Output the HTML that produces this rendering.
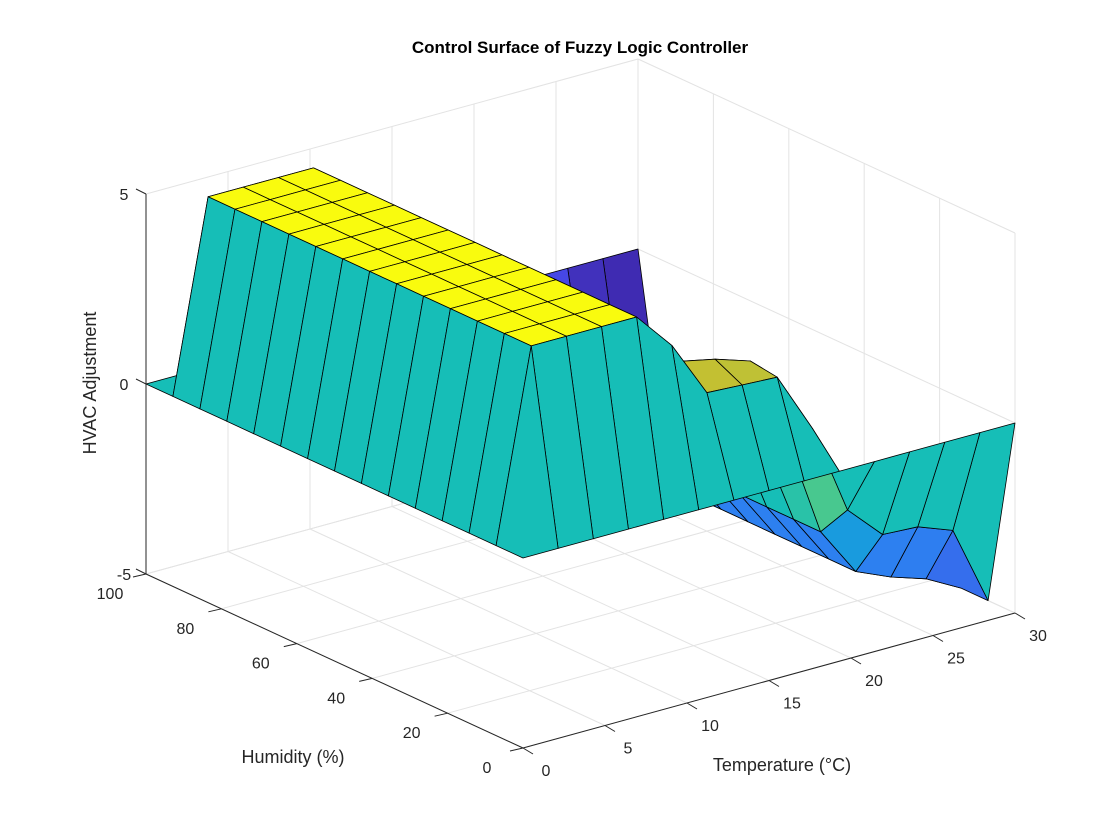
<!DOCTYPE html>
<html><head><meta charset="utf-8"><style>
html,body{margin:0;padding:0;background:#fff;}
svg{display:block;font-family:"Liberation Sans",Arial,sans-serif;}
</style></head><body>
<svg id="chart" width="1120" height="840" viewBox="0 0 1120 840" xmlns="http://www.w3.org/2000/svg">
<rect width="1120" height="840" fill="#fff"/>
<g id="grid"></g>
<g id="surf"></g>
<g id="axes"></g>
<text x="580" y="53" text-anchor="middle" font-size="17" font-weight="bold" fill="#000">Control Surface of Fuzzy Logic Controller</text>
<text x="0" y="0" transform="translate(96,383) rotate(-90)" text-anchor="middle" font-size="18" fill="#262626">HVAC Adjustment</text>
<text x="293" y="763" text-anchor="middle" font-size="18" fill="#262626">Humidity (%)</text>
<text x="782" y="771" text-anchor="middle" font-size="18" fill="#262626">Temperature (°C)</text>
</svg>
<script>
const tempGrid = [0,2.143,4.286,6.429,8.571,10.714,12.857,15,17.143,19.286,21.429,23.571,25.714,27.857,30];
const humGrid = [0,7.143,14.286,21.429,28.571,35.714,42.857,50,57.143,64.286,71.429,78.571,85.714,92.857,100];
const zRow0 = [0,0,0,0,0,0,0,0,0,0,0,0,0,0,0];
const zRow1 = [0,5,5,5,5,4,2.5,2.45,2.4,0.8,-1.6,-2.5,-2.55,-2.9,-5];
const zRow2 = [0,5,5,5,5,3.8,3.0,2.8,2.5,0.3,-2.5,-3.8,-4.2,-4.5,-5];
const zRowMid = [0,5,5,5,5,2.0,1.0,0.5,0.3,0,-2.5,-3.8,-4.2,-4.5,-5];
const zRow13 = [0,5,5,5,5,2.0,1.0,0.5,0.2,0,-2.5,-3.8,-4.6,-4.8,-5];
const zRow14 = [0,0,0,0,0,0,0,0,0,0,0,0,0,0,0];
const Z = [zRow0,zRow1,zRow2,zRowMid,zRowMid,zRowMid,zRowMid,zRowMid,zRowMid,zRowMid,zRowMid,zRowMid,zRowMid,zRow13,zRow14];
const tempTicks = [0,5,10,15,20,25,30];
const humTicks = [0,20,40,60,80,100];
const zTicks = [-5,0,5];

const NS='http://www.w3.org/2000/svg';
function P(t,h,z){return [523+t*(492/30)-h*3.77, 748-t*(135/30)-h*1.74-(z+5)*38];}
function floorY(t,h){return 748-t*4.5-h*1.74;}
const stops=[[0,62,38,168],[0.125,70,72,232],[0.25,45,128,240],[0.375,17,165,215],[0.5,22,190,183],[0.625,100,205,120],[0.75,195,192,50],[0.875,252,192,58],[1,249,251,14]];
function parula(v){let t=(v+5)/10;t=Math.max(0,Math.min(1,t));
 for(let k=1;k<stops.length;k++){if(t<=stops[k][0]){const a=stops[k-1],b=stops[k];const f=(t-a[0])/(b[0]-a[0]);
 return 'rgb('+[1,2,3].map(c=>Math.round(a[c]+(b[c]-a[c])*f)).join(',')+')';}}return 'rgb(249,251,14)';}
function line(g,a,b,stroke,w,name){const l=document.createElementNS(NS,'line');
 l.setAttribute('x1',a[0]);l.setAttribute('y1',a[1]);l.setAttribute('x2',b[0]);l.setAttribute('y2',b[1]);
 l.setAttribute('stroke',stroke);l.setAttribute('stroke-width',w);
 
 
 g.appendChild(l);}
function text(g,x,y,s,name){const t=document.createElementNS(NS,'text');t.setAttribute('x',x);t.setAttribute('y',y);
 t.setAttribute('text-anchor','middle');t.setAttribute('font-size','16');t.setAttribute('fill','#262626');t.textContent=s;
 
 
 g.appendChild(t);}
const grid=document.getElementById('grid'),gc='#e3e3e3';
tempTicks.forEach(t=>{line(grid,P(t,0,-5),P(t,100,-5),gc,1,'floor-grid-t');line(grid,P(t,100,-5),P(t,100,5),gc,1,'wall-grid-t');});
humTicks.forEach(h=>{line(grid,P(0,h,-5),P(30,h,-5),gc,1,'floor-grid-h');line(grid,P(30,h,-5),P(30,h,5),gc,1,'wall-grid-h');});
zTicks.forEach(z=>{line(grid,P(0,100,z),P(30,100,z),gc,1,'wall-grid-z');line(grid,P(30,100,z),P(30,0,z),gc,1,'wall-grid-z');});
const surf=document.getElementById('surf');const faces=[];
for(let i=0;i<humGrid.length-1;i++)for(let j=0;j<tempGrid.length-1;j++){
 const pts=[[i,j],[i,j+1],[i+1,j+1],[i+1,j]].map(([a,b])=>P(tempGrid[b],humGrid[a],Z[a][b]));
 const d=floorY((tempGrid[j]+tempGrid[j+1])/2,(humGrid[i]+humGrid[i+1])/2);
 faces.push({pts,d,c:parula(Z[i][j])});}
faces.sort((a,b)=>a.d-b.d);
faces.forEach(f=>{const p=document.createElementNS(NS,'polygon');
 p.setAttribute('points',f.pts.map(q=>q[0].toFixed(1)+','+q[1].toFixed(1)).join(' '));
 p.setAttribute('fill',f.c);p.setAttribute('stroke','#000');p.setAttribute('stroke-width','0.8');p.setAttribute('stroke-linejoin','round');
 
 
 surf.appendChild(p);});
const ax=document.getElementById('axes'),ac='#262626';
line(ax,P(0,100,-5),P(0,100,5),ac,1,'z-axis-line');
line(ax,P(0,100,-5),P(0,0,-5),ac,1,'humidity-axis-line');
line(ax,P(0,0,-5),P(30,0,-5),ac,1,'temperature-axis-line');
zTicks.forEach(z=>{const a=P(0,100,z);line(ax,a,[a[0]-10,a[1]-5],ac,1,'z-tick');text(ax,a[0]-22,a[1]+6,String(z),'z-tick-label');});
humTicks.forEach(h=>{const a=P(0,h,-5);line(ax,a,[a[0]-13,a[1]+3],ac,1,'humidity-tick');text(ax,a[0]-36,a[1]+25,String(h),'humidity-tick-label');});
tempTicks.forEach(t=>{const a=P(t,0,-5);line(ax,a,[a[0]+10,a[1]+6],ac,1,'temperature-tick');text(ax,a[0]+23,a[1]+28,String(t),'temperature-tick-label');});
</script>
</body></html>
